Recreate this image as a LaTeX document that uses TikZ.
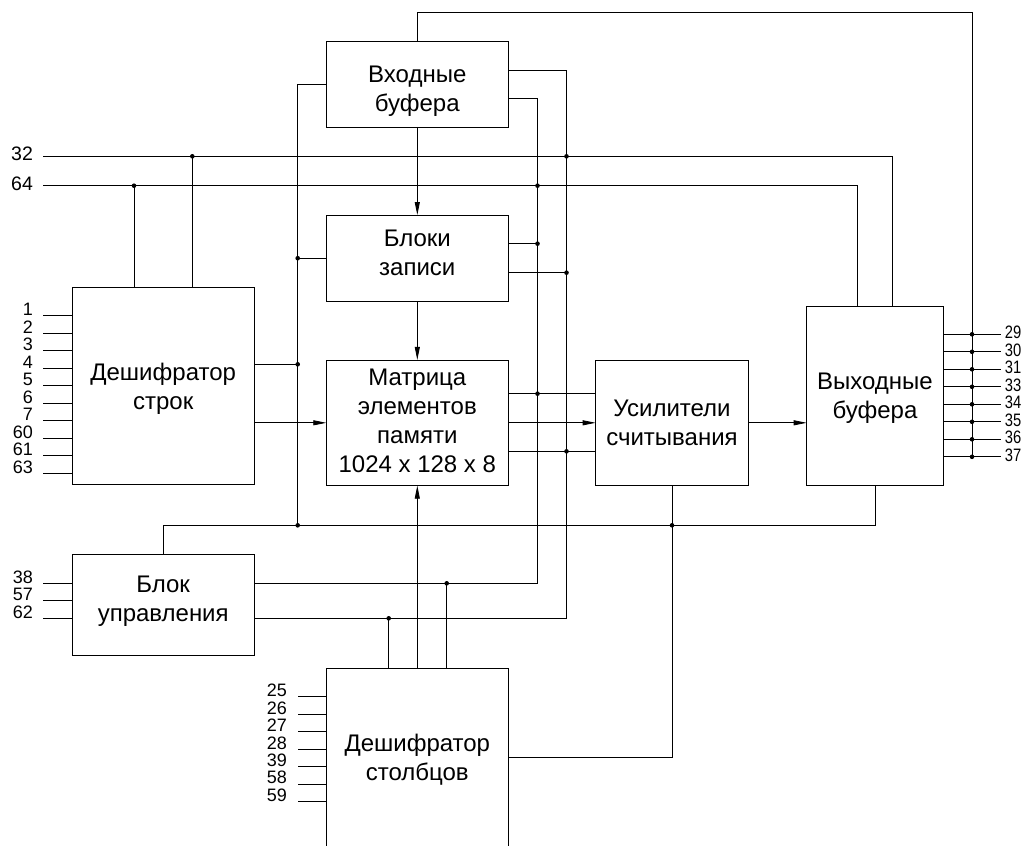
\documentclass[tikz,border=0pt]{standalone}
\usepackage{fontspec}
\setmainfont{Liberation Sans}
\newfontfamily\pinfont[FakeStretch=0.82]{Liberation Sans}
\usetikzlibrary{arrows.meta}
\begin{document}
\begin{tikzpicture}[x=1pt,y=-1pt,line width=0.8pt,
  box/.style={draw,inner sep=0pt,outer sep=0pt},
  txt/.style={align=center,inner sep=0pt,font=\fontsize{24}{29}\selectfont},
  arr/.style={-{Triangle[length=13pt,width=5pt]}},
  pinlab/.style={font=\fontsize{18}{18}\selectfont,inner sep=0pt},
  rpinlab/.style={font=\pinfont\fontsize{18}{18}\selectfont,inner sep=0pt},
  biglab/.style={font=\fontsize{19.5}{19.5}\selectfont,inner sep=0pt},
  jdot/.style={fill=black}]
\useasboundingbox (0,0) rectangle (1032,845);
\clip (0,0) rectangle (1032,845);

% blocks
\node[box,minimum width=182pt,minimum height=86pt] (inb) at (417.3,84) {};
\node[box,minimum width=182pt,minimum height=86.3pt] (wr) at (417.3,258.2) {};
\node[box,minimum width=182pt,minimum height=125.7pt] (mat) at (417.3,422.8) {};
\node[box,minimum width=181.7pt,minimum height=197.3pt] (rowd) at (163.2,385.7) {};
\node[box,minimum width=152.6pt,minimum height=125.7pt] (amp) at (672,422.8) {};
\node[box,minimum width=136.6pt,minimum height=179.7pt] (outb) at (875,395.8) {};
\node[box,minimum width=181.7pt,minimum height=100.7pt] (ctl) at (163.2,604.7) {};
\node[box,minimum width=182pt,minimum height=200pt,anchor=north] (col) at (417.3,668.3) {};

% block texts
\node[txt,yshift=-7.5pt] (inbt) at (inb) {Входные\\буфера};
\node[txt,yshift=5.5pt] (wrt) at (wr) {Блоки\\записи};
\node[txt,yshift=1.9pt] (matt) at (mat) {Матрица\\элементов\\памяти\\1024 x 128 x 8};
\node[txt,yshift=-3.5pt] (rowdt) at (rowd) {Дешифратор\\строк};
\node[txt] (ampt) at (amp) {Усилители\\считывания};
\node[txt,yshift=-2pt] (outbt) at (outb) {Выходные\\буфера};
\node[txt,yshift=3.6pt] (ctlt) at (ctl) {Блок\\управления};
\node[txt] (colt) at (417.3,759.5) {Дешифратор\\столбцов};

% free ends
\coordinate (p32) at (43,156.3);
\coordinate (p64) at (43,185.7);
\coordinate (rbtop) at (972,12);
\coordinate (rbbot) at (972,456.8);

% lines 32 / 64
\draw (p32) -| (892,0 |- outb.north);
\draw (p64) -| (857,0 |- outb.north);
\node[biglab,anchor=base east,xshift=-9.7pt,yshift=-4.4pt] (l32) at (p32) {32};
\node[biglab,anchor=base east,xshift=-9.7pt,yshift=-4.8pt] (l64) at (p64) {64};
\draw (192.3,0 |- rowd.north) -- (192.3,0 |- p32);
\draw (134,0 |- rowd.north) -- (134,0 |- p64);

% top loop to output bus
\draw (inb.north) |- (rbtop) -- (rbbot);

% left bus
\draw (inb.west) -- (297.7,0 |- inb.west) -- (297.7,525.3);
\draw (wr.west) -- (297.7,0 |- wr.west);
\draw (rowd.east |- 0,364.3) -- (297.7,364.3);
\draw[arr] (rowd.east |- mat.west) -- (mat.west);

% vertical arrows
\draw[arr] (inb.south) -- (wr.north);
\draw[arr] (wr.south) -- (mat.north);
\draw[arr] (col.north) -- (mat.south);

% outputs of input buffers to control block
\draw (inb.east |- 0,70) -| (566.5,618.3) -- (ctl.east |- 0,618.3);
\draw (inb.east |- 0,98.7) -| (537.5,583.3) -- (ctl.east |- 0,583.3);

% write block outputs
\draw (wr.east |- 0,243.7) -- (537.5,243.7);
\draw (wr.east |- 0,272.7) -- (566.5,272.7);

% matrix outputs
\draw (mat.east |- 0,393.7) -- (amp.west |- 0,393.7);
\draw[arr] (mat.east) -- (amp.west);
\draw (mat.east |- 0,451.3) -- (amp.west |- 0,451.3);
\draw[arr] (amp.east) -- (amp.east -| outb.west);

% sense amp to column decoder
\draw (amp.south) -- (amp.south |- 0,757.7) -- (col.east |- 0,757.7);

% control bus
\draw (ctl.north) |- (outb.south |- 0,525.3) -- (outb.south);

% column decoder top
\draw (388.7,0 |- col.north) -- (388.7,618.3);
\draw (446.7,0 |- col.north) -- (446.7,583.3);

% junction dots
\foreach \p in {(192.3,156.3),(566.5,156.3),(134,185.7),(537.5,185.7),(297.7,258.2),(537.5,243.7),(566.5,272.7),(297.7,364.3),(537.5,393.7),(566.5,451.3),(297.7,525.3),(672,525.3),(446.7,583.3),(388.7,618.3)}
  \fill[jdot] \p circle[radius=2.3pt];

% output buffer pins
\foreach \i/\l in {0/29,1/30,2/31,3/33,4/34,5/35,6/36,7/37}{
  \pgfmathsetmacro\yy{334.3+17.5*\i}
  \draw (outb.east |- 0,\yy) -- (1001,\yy) node[rpinlab,anchor=base west,xshift=3.5pt,yshift=-4.2pt] {\l};
  \fill[jdot] (972,\yy) circle[radius=2.3pt];
}

% row decoder pins
\foreach \i/\l in {0/1,1/2,2/3,3/4,4/5,5/6,6/7,7/60,8/61,9/63}{
  \pgfmathsetmacro\yy{315.7+17.5*\i}
  \draw (rowd.west |- 0,\yy) -- ++(-29.3,0) node[pinlab,anchor=base east,xshift=-9.7pt] {\l};
}

% control block pins
\foreach \i/\l in {0/38,1/57,2/62}{
  \pgfmathsetmacro\yy{583.3+17.5*\i}
  \draw (ctl.west |- 0,\yy) -- ++(-29.3,0) node[pinlab,anchor=base east,xshift=-9.7pt] {\l};
}

% column decoder pins
\foreach \i/\l in {0/25,1/26,2/27,3/28,4/39,5/58,6/59}{
  \pgfmathsetmacro\yy{696.7+17.45*\i}
  \draw (col.west |- 0,\yy) -- ++(-28,0) node[pinlab,anchor=base east,xshift=-11pt] {\l};
}
\end{tikzpicture}
\end{document}
